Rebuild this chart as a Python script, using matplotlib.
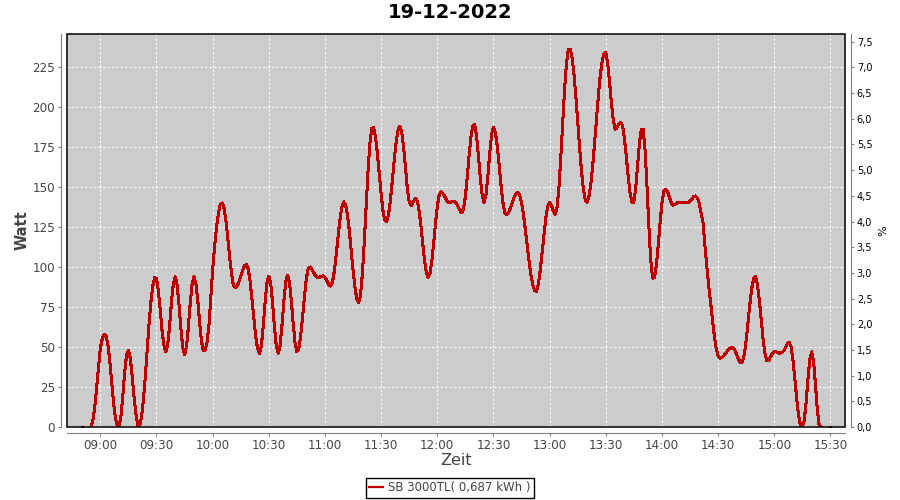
#!/usr/bin/env python3
# -*- coding: utf-8 -*-

"""
Tagesverlauf der PV-Leistung (SB 3000TL) am 19-12-2022, Watt ueber Zeit,
rechte Achse in Prozent der Nennleistung.
"""

import numpy as np
import pandas as pd
import matplotlib
matplotlib.use("Agg")
from matplotlib import pyplot as plt
from matplotlib import dates as mdates
from matplotlib.patches import Rectangle
from matplotlib.ticker import FuncFormatter, MultipleLocator

TITLE = "19-12-2022"
SERIES_NAME = "SB 3000TL( 0,687 kWh )"

# one reading per minute, starting 08:55
START = "2022-12-19 08:55"
watt = [
    0, 4, 12, 24, 37, 49, 55, 58, 57, 52,
    42, 29, 16, 6, 1, 0, 6.5, 19.5, 34, 45,
    48, 43, 32, 19, 8, 1, 0.5, 6, 17, 31,
    48, 64, 78, 88, 93.5, 92.7, 85, 73, 60, 51,
    47, 51.5, 63, 78, 89.5, 94, 89, 77, 62, 50,
    45, 50, 62, 77, 89, 94, 90, 80, 66, 54,
    47.5, 48, 53, 63, 80, 98, 112, 124, 133, 139,
    140, 137.4, 130, 119, 107, 97, 89, 87, 88, 90.5,
    94, 98, 100.7, 101.7, 99, 91, 80, 68, 56.5, 49,
    46, 50.6, 62.7, 77.7, 89.8, 94.4, 89.8, 77.7, 62.7, 50.6,
    46, 50.7, 63, 78, 90.3, 95, 90.8, 79.5, 65, 53,
    47, 49, 56.7, 68.3, 81, 92.3, 99, 100, 98.5, 96.5,
    94.5, 93.5, 93.6, 94.2, 94.4, 93.5, 91.5, 89, 88, 90.5,
    97.4, 107.6, 119, 129.6, 137.3, 140.7, 139, 132.8, 122.8, 110.5,
    98, 87.4, 80, 77.7, 82.5, 96, 115.7, 138.4, 160, 177.3,
    186.5, 187, 181.4, 171, 158.5, 145.7, 135, 129, 128.4, 133,
    142.3, 154, 166.8, 177.8, 185.4, 188, 184, 175, 162, 149,
    140.6, 138.3, 140.5, 142.5, 142.5, 137.7, 128.5, 117, 106, 97.4,
    93.6, 95.4, 102.7, 114, 126.6, 137.8, 145, 147, 146, 144,
    141.5, 140.3, 140.5, 141, 141, 140, 138, 135.5, 134, 136,
    144, 156, 169.7, 181.3, 188.2, 189, 181.7, 169.2, 155.2, 144.5,
    140.4, 145, 156.6, 171, 182.8, 187.3, 184.3, 176, 164.4, 151.7,
    140.7, 134, 132.6, 133.9, 136.7, 140, 143.5, 145.8, 146.7, 145,
    140.3, 133, 123.7, 113.6, 103.8, 95.2, 88.8, 85.2, 84.8, 89.4,
    98, 109, 120.6, 131, 138, 140.4, 138.5, 135, 133, 137.5,
    150, 169, 190.4, 211, 227, 235.8, 236.2, 230.8, 220.7, 207,
    191, 175, 160.4, 149, 142, 140.5, 144, 151.6, 163, 177,
    192, 206.4, 219, 228, 233.4, 234, 227.3, 216, 202.8, 191.8,
    186.1, 187, 189.5, 190.4, 188.5, 180, 168.6, 156.3, 146, 140.2,
    140.6, 149.3, 163.4, 177.4, 186.2, 186, 173, 151, 126, 104.5,
    93, 93.2, 100.7, 113.2, 127.3, 139.8, 147.3, 148.5, 147, 143.5,
    140, 138.7, 139.2, 140, 140.4, 140.4, 140.4, 140.4, 140.2, 140.3,
    141, 142.5, 144, 144.4, 143, 139.5, 133.5, 127.3, 113, 100,
    88, 78, 67, 57, 49, 44.5, 43, 43.3, 44.5, 46,
    47.5, 48.8, 49.5, 49.6, 48, 45, 42, 40.3, 40.6, 45.2,
    54, 65.3, 77, 86.8, 92.7, 93.9, 89.1, 79.7, 67.6, 55.5,
    46.1, 41.3, 41.5, 44, 46, 47, 47, 46.5, 46, 46.5,
    47.5, 49.5, 52, 53, 50, 41.9, 30.3, 17.8, 7.3, 1.1,
    0, 4, 15, 30, 42, 47, 41.3, 26.8, 10.8, 1, 0,
]

# single readings outside the connected run
lone_times = ["2022-12-19 08:50", "2022-12-19 15:30"]
lone_watt = [0, 0]

x_ticks = ["09:00", "09:30", "10:00", "10:30", "11:00", "11:30", "12:00",
           "12:30", "13:00", "13:30", "14:00", "14:30", "15:00", "15:30"]

W_MAX = 245.6
W_PER_PERCENT = 32.1


def create_plot():
    times = pd.date_range(START, periods=len(watt), freq="min")

    fig = plt.figure(figsize=(9, 5), dpi=100)
    ax = fig.add_axes([67 / 900, 73 / 500, 778 / 900, 393 / 500])
    ax.set_facecolor("#cccccc")
    ax.set_axisbelow(True)

    ax.plot(times, watt, color="#c00000", lw=1.45, antialiased=False, zorder=3)
    ax.plot(pd.to_datetime(lone_times), lone_watt, ls="none", marker="s",
            ms=1.4, color="#c00000", zorder=3)

    ax.set_xlim(pd.Timestamp("2022-12-19 08:42:12"), pd.Timestamp("2022-12-19 15:37:48"))
    ax.set_ylim(0, W_MAX)
    ax.set_xticks(pd.to_datetime(["2022-12-19 " + t for t in x_ticks]))
    ax.xaxis.set_major_formatter(mdates.DateFormatter("%H:%M"))
    ax.yaxis.set_major_locator(MultipleLocator(25))

    ax.grid(True, color="white", ls=(0, (2, 2)), lw=0.8)

    for s in ["top", "right"]:
        ax.spines[s].set_visible(False)
    for s in ["left", "bottom"]:
        ax.spines[s].set_position(("outward", 4))
        ax.spines[s].set_color("#808080")
    ax.tick_params(colors="#808080", labelcolor="#444444", length=2.5,
                   labelsize=8.6, pad=2)

    # black border of the plot area
    ax.add_patch(Rectangle((0, 0), 1, 1, transform=ax.transAxes, fill=False,
                           ec="black", lw=1.1, zorder=5, clip_on=False))

    ax.set_ylabel("Watt", fontsize=10.5, fontweight="bold", color="#444444")
    ax.yaxis.set_label_coords(-0.048, 0.5)
    ax.set_xlabel("Zeit", fontsize=11.5, color="#444444")
    ax.xaxis.set_label_coords(0.5, -0.066)

    # percent axis on the right
    ax2 = ax.twinx()
    ax2.set_ylim(0, W_MAX / W_PER_PERCENT)
    ax2.yaxis.set_major_locator(MultipleLocator(0.5))
    ax2.yaxis.set_major_formatter(FuncFormatter(lambda v, _: "{:.1f}".format(v).replace(".", ",")))
    for s in ["top", "left", "bottom"]:
        ax2.spines[s].set_visible(False)
    ax2.spines["right"].set_position(("outward", 4))
    ax2.spines["right"].set_color("#808080")
    ax2.tick_params(colors="#808080", labelcolor="black", length=2.5,
                    labelsize=7, pad=2)
    ax2.set_ylabel("%", fontsize=8, color="black")
    ax2.yaxis.set_label_coords(1.043, 0.5)

    fig.text(0.5, 1 - 13 / 500, TITLE, ha="center", va="center",
             fontsize=14, fontweight="bold")

    handle = plt.Line2D([], [], color="#c00000", lw=1.6)
    leg = fig.legend([handle], [SERIES_NAME], loc="lower center",
                     bbox_to_anchor=(0.5, 0.004), fontsize=8.5, labelcolor="#444444",
                     fancybox=False, edgecolor="black", framealpha=1,
                     handlelength=1.2, handletextpad=0.4, borderpad=0.3,
                     borderaxespad=0)
    leg.get_frame().set_linewidth(1.0)

    fig.savefig("out.png", dpi=100)
    plt.close(fig)


if __name__ == "__main__":
    create_plot()
